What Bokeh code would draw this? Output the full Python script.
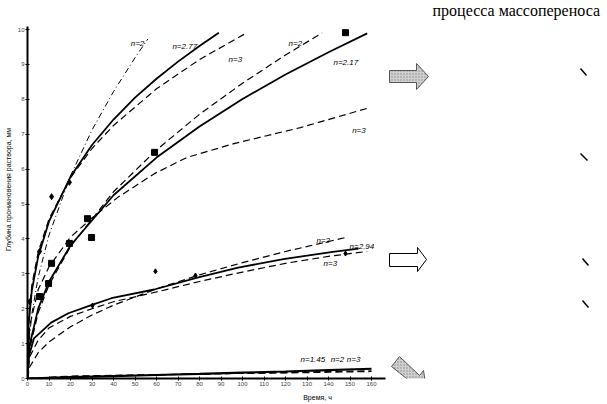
from bokeh.plotting import figure
from bokeh.models import FixedTicker, ColumnDataSource, Range1d
from bokeh.core.properties import value
from bokeh.embed import file_html
from bokeh.resources import INLINE

# ---- data (time in h, depth in mm) ----
x_ticks = [0, 10, 20, 30, 40, 50, 60, 70, 80, 90, 100, 110, 120, 130, 140, 150, 160]
y_ticks = [0, 1, 2, 3, 4, 5, 6, 7, 8, 9, 10]

# group 1
g1_n2_t = [0, 0.5, 2, 5, 10, 20, 30, 40, 50, 56]
g1_n2_v = [0, 0.92, 1.84, 2.91, 4.11, 5.81, 7.12, 8.22, 9.19, 9.73]
g1_n277_t = [0, 0.5, 2, 5, 10, 20, 30, 40, 50, 60, 70, 80, 89]
g1_n277_v = [0, 1.53, 2.52, 3.50, 4.50, 5.78, 6.69, 7.42, 8.05, 8.59, 9.08, 9.53, 9.91]
g1_n3_t = [0, 0.5, 2, 5, 10, 20, 30, 40, 60, 80, 101]
g1_n3_v = [0, 1.68, 2.67, 3.63, 4.57, 5.75, 6.59, 7.25, 8.30, 9.14, 9.87]
g1_pts_t = [1.0, 5.6, 11.2, 19.5]
g1_pts_v = [2.2, 3.64, 5.21, 5.62]

# group 2
g2_n2_t = [0, 1, 5, 10, 20, 40, 60, 80, 100, 120, 137]
g2_n2_v = [0, 0.85, 1.89, 2.68, 3.78, 5.35, 6.55, 7.57, 8.46, 9.27, 9.90]
g2_n217_t = [0, 1, 5, 10, 20, 40, 60, 80, 100, 120, 140, 158]
g2_n217_v = [0, 0.96, 2.01, 2.77, 3.81, 5.25, 6.33, 7.22, 8.01, 8.71, 9.35, 9.89]
g2_n3_t = [0, 1, 5, 10, 20, 30, 42, 59, 74, 96, 127, 158]
g2_n3_v = [0, 1.5, 2.55, 3.2, 4.05, 4.6, 5.19, 5.87, 6.33, 6.73, 7.19, 7.74]
g2_pts_t = [5.6, 9.8, 11.2, 19.5, 27.9, 29.8, 59.1, 147.9]
g2_pts_v = [2.35, 2.72, 3.30, 3.87, 4.58, 4.04, 6.48, 9.91]

# group 3
g3_n2_t = [0, 1, 5, 10, 20, 30, 40, 60, 80, 100, 120, 148]
g3_n2_v = [0, 0.33, 0.74, 1.05, 1.48, 1.82, 2.1, 2.57, 2.97, 3.32, 3.64, 4.04]
g3_n294_t = [0, 0.5, 3, 11, 19, 29, 39, 59, 79, 98, 119, 142, 154]
g3_n294_v = [0, 0.6, 1.15, 1.6, 1.87, 2.09, 2.3, 2.55, 2.89, 3.18, 3.42, 3.63, 3.72]
g3_n3_t = [0, 1, 5, 10, 20, 30, 40, 60, 80, 100, 120, 140, 158]
g3_n3_v = [0, 0.62, 1.1, 1.45, 1.78, 2.0, 2.2, 2.48, 2.78, 3.05, 3.3, 3.5, 3.64]
g3_pts_t = [30.2, 59.5, 78.1, 147.9]
g3_pts_v = [2.09, 3.07, 2.95, 3.58]

# group 4 (near zero)
g4_t = [0, 20, 40, 60, 80, 100, 120, 140, 160]
g4_n145_v = [0, 0.04, 0.07, 0.10, 0.13, 0.17, 0.20, 0.24, 0.28]
g4_n2_v = [0, 0.05, 0.08, 0.10, 0.13, 0.15, 0.17, 0.20, 0.22]
g4_n3_v = [0, 0.07, 0.09, 0.11, 0.13, 0.15, 0.16, 0.18, 0.20]

curve_labels = ["n=2", "n=2.77", "n=3", "n=2", "n=2.17", "n=3",
                "n=2", "n=2.94", "n=3", "n=1.45", "n=2", "n=3"]
x_title = "Время, ч"
y_title = "Глубина проникновения раствора, мм"
side_title = "процесса массопереноса"

# ---- figure: frame fills the canvas except a thin left/bottom border ----
W, H = 607, 404
BL, BB = 27, 26
px_per_t = 2.15
px_per_v = 34.9
p = figure(width=W, height=H,
           x_range=(0, (W - BL) / px_per_t), y_range=(0, (H - BB) / px_per_v),
           output_backend="svg", toolbar_location=None,
           min_border_left=BL, min_border_right=0, min_border_top=0, min_border_bottom=BB)
p.outline_line_color = None
p.xgrid.visible = False
p.ygrid.visible = False

# pixel ranges for the decorative right-hand part (canvas pixel coordinates)
p.extra_x_ranges = {"px": Range1d(BL, W)}
p.extra_y_ranges = {"py": Range1d(H - BB, 0)}

p.xaxis.ticker = FixedTicker(ticks=x_ticks)
p.yaxis.ticker = FixedTicker(ticks=y_ticks)
p.xaxis.bounds = (0, 166.5)
p.yaxis.bounds = (0, 10.1)
p.xaxis.axis_label = x_title
p.yaxis.axis_label = y_title
for ax in (p.xaxis[0], p.yaxis[0]):
    ax.axis_line_width = 2
    ax.axis_line_color = "black"
    ax.major_tick_line_color = "black"
    ax.major_tick_in = 2
    ax.major_tick_out = 2
    ax.minor_tick_line_color = None
    ax.major_label_text_font_size = "6px"
    ax.major_label_text_color = "#444444"
    ax.major_label_standoff = 1
    ax.axis_label_text_font = "Liberation Sans"
    ax.axis_label_text_font_size = "7px"
    ax.axis_label_text_font_style = "normal"
    ax.axis_label_text_color = "black"
p.xaxis[0].axis_label_standoff = 5
p.yaxis[0].axis_label_standoff = 3

solid = dict(line_color="black", line_width=1.8)
dashed = dict(line_color="black", line_width=1.2, line_dash="7 4")
dashdot = dict(line_color="black", line_width=1.0, line_dash="6 3 1 3")

p.line(g1_n2_t, g1_n2_v, **dashdot)
p.line(g1_n277_t, g1_n277_v, **solid)
p.line(g1_n3_t, g1_n3_v, **dashed)
p.scatter(g1_pts_t, g1_pts_v, marker="diamond", size=6, color="black")

p.line(g2_n2_t, g2_n2_v, **dashed)
p.line(g2_n217_t, g2_n217_v, **solid)
p.line(g2_n3_t, g2_n3_v, **dashed)
p.scatter(g2_pts_t, g2_pts_v, marker="square", size=6, color="black")

p.line(g3_n2_t, g3_n2_v, **dashed)
p.line(g3_n294_t, g3_n294_v, **solid)
p.line(g3_n3_t, g3_n3_v, **dashed)
p.scatter(g3_pts_t, g3_pts_v, marker="diamond", size=5, color="black")

p.line(g4_t, g4_n145_v, line_color="black", line_width=2.2)
p.line(g4_t, g4_n2_v, **dashed)
p.line(g4_t, g4_n3_v, **dashed)

lab_x = [48, 67.4, 93.5, 121.4, 142.3, 151, 134.4, 149.8, 137.7, 127, 141, 148.5]
lab_y = [9.6, 9.5, 9.15, 9.6, 9.05, 7.1, 3.95, 3.78, 3.3, 0.55, 0.55, 0.55]
src = ColumnDataSource(dict(x=lab_x, y=lab_y, text=curve_labels))
p.text(x="x", y="y", text="text", source=src, text_font=value("Liberation Sans"),
       text_font_size="8px", text_font_style="italic", text_color="black",
       text_baseline="middle", text_align="left")

# ---- decorative right-hand part (pixel coordinates) ----
deco = dict(x_range_name="px", y_range_name="py")
p.text(x=[432], y=[1], text=[side_title], text_font=value("Liberation Serif"),
       text_font_size="16px", text_color="black", text_baseline="top", text_align="left", **deco)

p.patch([389, 416, 416, 428, 416, 416, 389], [70, 70, 63, 76, 89, 82, 82],
        fill_color="#d0d0d0", line_color="#555555", line_width=1,
        hatch_pattern="dot", hatch_color="#888888", hatch_scale=3, **deco)
p.patch([389, 417, 417, 426, 417, 417, 389], [253, 253, 247, 259, 271, 266, 266],
        fill_color="white", line_color="black", line_width=1, **deco)
p.patch([391, 411, 407, 426, 423, 419, 399], [366, 382, 387, 389, 370, 375, 356],
        fill_color="#d0d0d0", line_color="#555555", line_width=1,
        hatch_pattern="dot", hatch_color="#888888", hatch_scale=3, **deco)

p.segment(x0=[580, 580, 582, 582], y0=[68, 153, 258, 300],
          x1=[586, 587, 588, 588], y1=[75, 160, 265, 307],
          line_color="black", line_width=1.5, **deco)

open("out.html", "w").write(file_html(p, INLINE))
